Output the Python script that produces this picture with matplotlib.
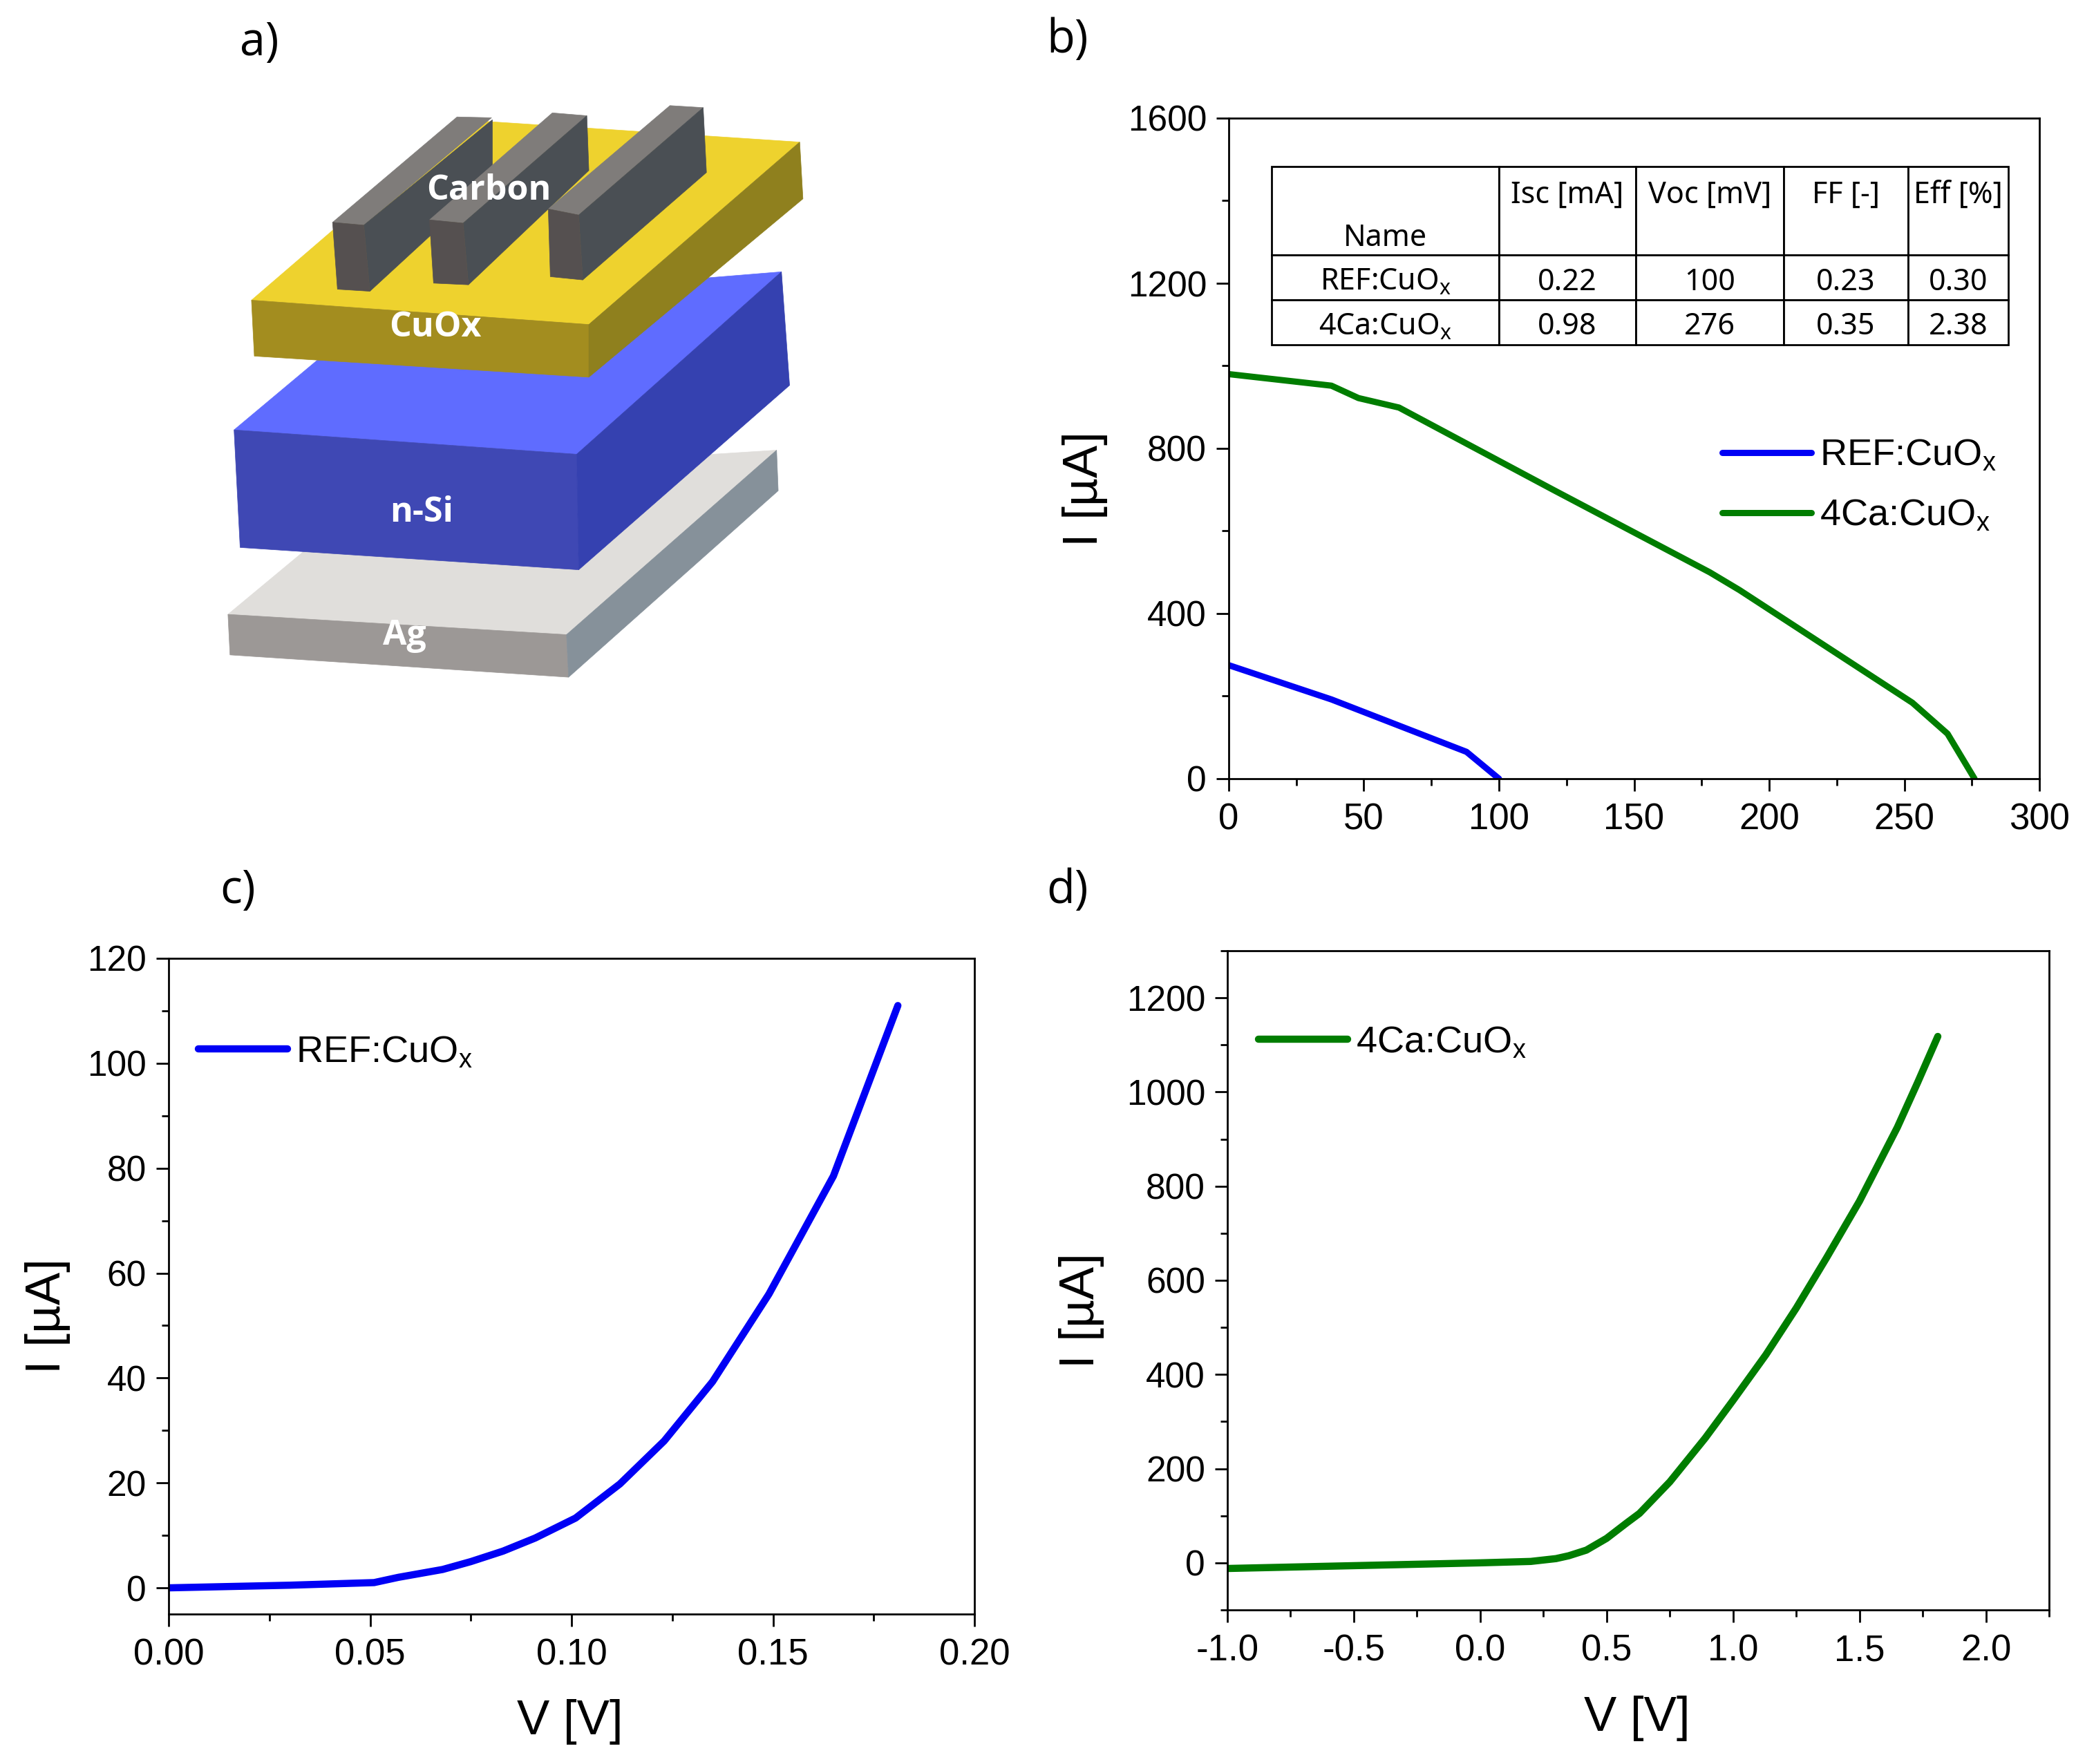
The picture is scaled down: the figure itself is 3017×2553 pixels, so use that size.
import matplotlib
matplotlib.use("Agg")
import matplotlib.pyplot as plt
from matplotlib.patches import Polygon
from matplotlib.ticker import MultipleLocator, FormatStrFormatter
from matplotlib.transforms import Affine2D

W, H = 3017, 2553
plt.rcParams['font.family'] = ['Liberation Sans', 'DejaVu Sans']
plt.rcParams['mathtext.default'] = 'regular'

# ---- data ----
ref_jv_x = [0, 38, 88, 100]
ref_jv_y = [275, 192, 65, 0]
ca_jv_x = [0, 38, 48, 63, 120, 178, 189, 253, 266, 276]
ca_jv_y = [980, 952, 922, 899, 700, 500, 457, 184, 109, 0]
ref_dark_v = [0, 0.03, 0.051, 0.057, 0.068, 0.075, 0.083, 0.091, 0.101, 0.112, 0.123, 0.135, 0.149, 0.165, 0.181]
ref_dark_i = [0, 0.5, 1, 2, 3.5, 5, 7, 9.5, 13.3, 19.8, 28, 39.3, 56, 78.5, 111]
ca_dark_v = [-1, -0.5, 0, 0.2, 0.3, 0.35, 0.42, 0.5, 0.58, 0.63, 0.75, 0.89, 1.0, 1.13, 1.25, 1.37, 1.5, 1.65, 1.73, 1.81]
ca_dark_i = [-12, -6, 0, 3, 9, 15, 27, 52, 85, 105, 172, 265, 345, 442, 541, 648, 768, 925, 1020, 1118]

table_cols = ['Name', 'Isc [mA]', 'Voc [mV]', 'FF [-]', 'Eff [%]']
table_rows = [['REF:CuO$_{x}$', '0.22', '100', '0.23', '0.30'],
              ['4Ca:CuO$_{x}$', '0.98', '276', '0.35', '2.38']]

# schematic faces: (colour, outline)
layers = [
    ('#e0dedb', [(85,1345),(500,1000),(1438,940),(920,1395)]),
    ('#9c9896', [(85,1345),(920,1395),(925,1500),(90,1445)]),
    ('#86919a', [(920,1395),(1438,940),(1442,1040),(925,1500)]),
    ('#5f6cff', [(100,890),(470,580),(1450,500),(945,950)]),
    ('#3f48b4', [(100,890),(945,950),(950,1235),(115,1180)]),
    ('#3541b0', [(945,950),(1450,500),(1470,780),(950,1235)]),
    ('#eed22e', [(143,570),(660,125),(1495,180),(975,630)]),
    ('#a38d1f', [(143,570),(975,630),(975,760),(150,708)]),
    ('#8f801e', [(975,630),(1495,180),(1503,320),(975,760)]),
    ('#7f7c7a', [(343,378),(650,118),(735,120),(420,385)]),
    ('#4a4f54', [(420,385),(737,125),(737,270),(435,548)]),
    ('#555050', [(343,378),(420,385),(435,548),(355,543)]),
    ('#7f7c7a', [(582,372),(885,108),(970,115),(665,380)]),
    ('#4a4f54', [(665,380),(970,115),(975,250),(678,532)]),
    ('#555050', [(582,372),(665,380),(678,532),(592,528)]),
    ('#7f7c7a', [(875,345),(1175,90),(1257,95),(950,360)]),
    ('#4a4f54', [(950,360),(1257,95),(1265,255),(960,520)]),
    ('#555050', [(875,345),(950,360),(960,520),(880,512)]),
]
layer_labels = [('Carbon',728,300),('CuOx',597,638),('n-Si',563,1094),('Ag',520,1397)]
panels = [('a)',375,62),('b)',1545,58),('c)',344,1289),('d)',1545,1289)]

BLUE = '#0000f5'
GREEN = '#007d00'

fig = plt.figure(figsize=(W/100, H/100), dpi=100, facecolor='white')
px = Affine2D().scale(1/W, -1/H).translate(0, 1) + fig.transFigure

def rect(l, t, r, b):
    return [l/W, 1-b/H, (r-l)/W, (b-t)/H]

def style(ax, xmaj, xmin, ymaj, ymin, xfmt):
    for s in ax.spines.values():
        s.set_linewidth(2.0)
    ax.xaxis.set_major_locator(MultipleLocator(xmaj))
    ax.xaxis.set_minor_locator(MultipleLocator(xmin))
    ax.yaxis.set_major_locator(MultipleLocator(ymaj))
    ax.yaxis.set_minor_locator(MultipleLocator(ymin))
    ax.xaxis.set_major_formatter(FormatStrFormatter(xfmt))
    ax.tick_params(axis='both', which='major', length=13, width=2)
    ax.tick_params(axis='both', which='minor', length=7, width=2)
    ax.tick_params(axis='x', which='major', pad=12, labelsize=38)
    ax.tick_params(axis='y', which='major', pad=10, labelsize=37)

def labels(ax, xl, yl):
    if xl:
        ax.set_xlabel('V [V]', fontsize=51, va='center', ha='center')
        ax.xaxis.set_label_coords(xl[0], xl[1], transform=px)
    ax.set_ylabel('I [µA]', fontsize=51, va='center', ha='center')
    ax.yaxis.set_label_coords(yl[0], yl[1], transform=px)

def legend(ax, x, y, spacing=0.68):
    return ax.legend(loc='center left', bbox_to_anchor=(x, y), bbox_transform=px,
                     frameon=False, fontsize=39, borderpad=0, borderaxespad=0,
                     handlelength=2.38, handletextpad=0.22, labelspacing=spacing)

# schematic
s = fig.add_axes(rect(280, 100, 1200, 1020))
s.set_xlim(0, 1568); s.set_ylim(1568, 0); s.axis('off')
for c, pts in layers:
    s.add_patch(Polygon(pts, closed=True, facecolor=c, edgecolor=c, linewidth=0.5))
for t, x, y in layer_labels:
    s.text(x, y, t, color='white', fontsize=36, fontweight='bold', ha='center', va='center', family='Open Sans')

# b
b = fig.add_axes(rect(1778, 171, 2951, 1127))
b.plot(ref_jv_x, ref_jv_y, color=BLUE, lw=6.5, label='REF:CuO$_{x}$', solid_capstyle='round')
b.plot(ca_jv_x, ca_jv_y, color=GREEN, lw=6.5, label='4Ca:CuO$_{x}$', solid_capstyle='round')
b.set_xlim(0, 300); b.set_ylim(0, 1600)
style(b, 50, 25, 400, 200, '%d')
labels(b, None, (1570, 708))
legend(b, 2492, 703)
ax2fig = b.transAxes.inverted()
x0, y1 = ax2fig.transform(px.transform((1840, 241)))
x1, y0 = ax2fig.transform(px.transform((2906, 499)))
tb = b.table(cellText=table_rows, colLabels=table_cols, cellLoc='center',
             colWidths=[329, 198, 214, 180, 145], bbox=[x0, y0, x1-x0, y1-y0])
tb.auto_set_font_size(False)
tb.set_fontsize(31)
for (r, c), cell in tb.get_celld().items():
    cell.set_height(128 if r == 0 else 65)
    cell.set_linewidth(2.0)
    t = cell.get_text()
    t.set_family('Noto Sans')
    if r == 0:
        shift = -40 if c == 0 else 22
    else:
        shift = -7
    t.set_transform(Affine2D().translate(0, shift))

# c
c = fig.add_axes(rect(244, 1387, 1410, 2336))
c.plot(ref_dark_v, ref_dark_i, color=BLUE, lw=7.5, label='REF:CuO$_{x}$', solid_capstyle='round')
c.set_xlim(0, 0.2); c.set_ylim(-5, 120)
style(c, 0.05, 0.025, 20, 10, '%.2f')
labels(c, (825, 2492), (69, 1905))
legend(c, 287, 1523)

# d
d = fig.add_axes(rect(1776, 1376, 2965, 2330))
d.plot(ca_dark_v, ca_dark_i, color=GREEN, lw=7.5, label='4Ca:CuO$_{x}$', solid_capstyle='round')
d.set_xlim(-1, 2.25); d.set_ylim(-100, 1300)
style(d, 0.5, 0.25, 200, 100, '%.1f')
labels(d, (2369, 2487), (1565, 1897))
legend(d, 1821, 1509)

for t, x, y in panels:
    fig.text(x/W, 1-y/H, t, fontsize=48, family='Open Sans', ha='center', va='center')

fig.savefig('out.png', dpi=100, facecolor='white')
